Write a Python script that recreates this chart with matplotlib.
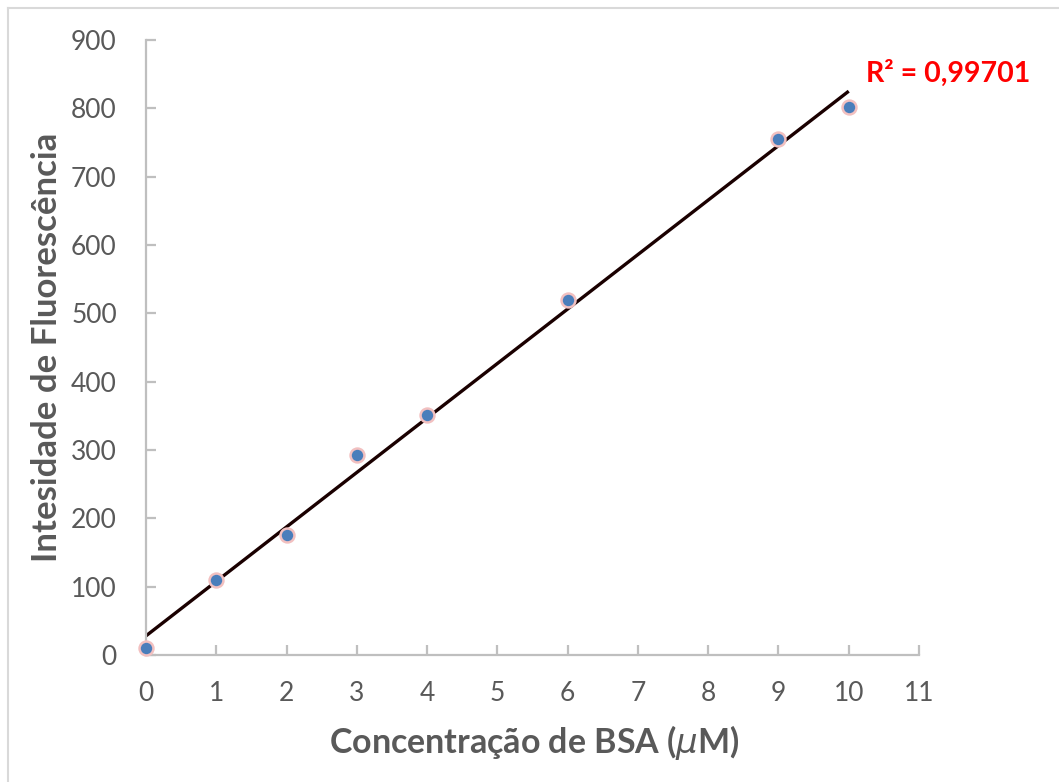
import matplotlib
matplotlib.use("Agg")
import matplotlib.pyplot as plt
import numpy as np
from matplotlib.lines import Line2D

conc = [0, 1, 2, 3, 4, 6, 9, 10]
fluor = [10, 110, 175, 292, 351, 519, 755, 802]
x_ticks = list(range(0, 12))
y_ticks = list(range(0, 1000, 100))
r2_text = "R² = 0,99701"

plt.rcParams['font.family'] = ['Lato', 'DejaVu Sans']
plt.rcParams['mathtext.fontset'] = 'dejavusans'

W, H = 1059, 782
fig = plt.figure(figsize=(W/100, H/100), dpi=100)
ax = fig.add_axes([146/W, 1-655/H, (919-146)/W, (655-40)/H])

# fit line
coef = np.polyfit(conc, fluor, 1)
xf = np.array([min(conc), max(conc)])
ax.plot(xf, np.polyval(coef, xf), color='#1a0000', lw=2.4, zorder=2, solid_capstyle='butt')

ax.plot(conc, fluor, 'o', ms=10, mfc='#4a7ebb', mec='#f2c0c0', mew=1.8, zorder=3, clip_on=False)

ax.set_xlim(0, 11)
ax.set_ylim(0, 900)
ax.set_xticks(x_ticks)
ax.set_yticks(y_ticks)
for s in ['top', 'right']:
    ax.spines[s].set_visible(False)
for s in ['left', 'bottom']:
    ax.spines[s].set_color('#bfbfbf')
    ax.spines[s].set_linewidth(1.6)
ax.tick_params(axis='both', direction='in', length=7, width=1.6, color='#bfbfbf',
               labelsize=19, labelcolor='#595959')
ax.tick_params(axis='y', pad=21)
ax.tick_params(axis='x', pad=19)

ax.set_xlabel("Concentração de BSA ($\\mu$M)", fontsize=24.5, fontweight='bold', color='#595959')
ax.set_ylabel("Intesidade de Fluorescência", fontsize=25, fontweight='bold', color='#595959')
ax.xaxis.label.set_va('center')
ax.yaxis.label.set_va('center')
ax.xaxis.set_label_coords((534-146)/773, (655-743)/615)
ax.yaxis.set_label_coords((47-146)/773, (655-347)/615)

fig.text(866/W, 1-73/H, r2_text, fontsize=20.5, fontweight='bold', color='#ff0000', ha='left', va='center')

# outer border (left and top visible)
fig.add_artist(Line2D([7.5/W, 7.5/W], [0, 1-8/H], transform=fig.transFigure, color='#d9d9d9', lw=1.5))
fig.add_artist(Line2D([7.5/W, 1], [1-8/H, 1-8/H], transform=fig.transFigure, color='#d9d9d9', lw=1.5))

fig.savefig("out.png", dpi=100)
